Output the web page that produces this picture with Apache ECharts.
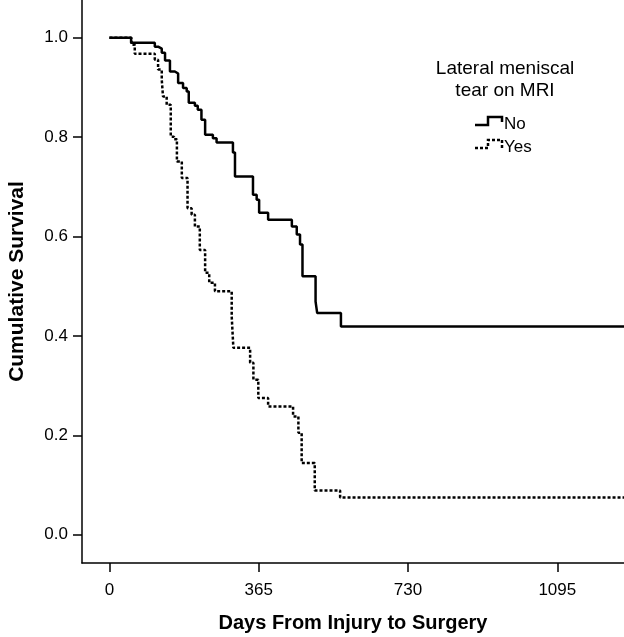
<!DOCTYPE html>
<html>
<head>
<meta charset="utf-8">
<style>
  html, body { margin: 0; padding: 0; background: #fff; }
  #chart { width: 624px; height: 637px; }
</style>
<script src="https://cdn.jsdelivr.net/npm/echarts@6/dist/echarts.min.js"></script>
</head>
<body>
<div id="chart"></div>
<script>
// Kaplan-Meier: days until surgery, split by lateral meniscal tear on MRI
var noDays = [0, 53, 111, 119, 128, 136, 148, 160, 168, 180, 189, 194, 209, 216, 225, 234, 253, 262, 302, 307,
  351, 360, 366, 388, 446, 458, 466, 472, 504, 508, 566, 1300];
var noSurv = [1.0, 0.990, 0.982, 0.978, 0.970, 0.954, 0.932, 0.928, 0.909, 0.899, 0.892, 0.869, 0.863, 0.855, 0.835, 0.805,
  0.798, 0.789, 0.769, 0.721, 0.684, 0.674, 0.648, 0.634, 0.620, 0.604, 0.584, 0.520, 0.469, 0.446, 0.419, 0.419];

var yesDays = [0, 54, 62, 111, 119, 128, 131, 140, 150, 158, 165, 177, 191, 201, 209, 221, 234, 244, 258, 299, 303,
  344, 352, 364, 388, 449, 462, 470, 502, 564, 1300];
var yesSurv = [1.0, 0.986, 0.968, 0.956, 0.936, 0.915, 0.882, 0.865, 0.801, 0.796, 0.751, 0.718, 0.657, 0.644, 0.620,
  0.573, 0.527, 0.507, 0.490, 0.439, 0.376, 0.346, 0.312, 0.275, 0.258, 0.238, 0.205, 0.144, 0.089, 0.075, 0.075];

var xTicks = [0, 365, 730, 1095];
var yTicks = [0, 0.2, 0.4, 0.6, 0.8, 1.0];

var legendTitle = 'Lateral meniscal\ntear on MRI';
var groups = ['No', 'Yes'];

function pairs(xs, ys) {
  return xs.map(function (x, i) { return [x, ys[i]]; })
}

var font = '"Liberation Sans", Arial, sans-serif';

var chart = echarts.init(document.getElementById('chart'))

chart.setOption({
  backgroundColor: '#fff',
  animation: false,
  grid: { left: 82, right: 0, top: 0, bottom: 74, outerBoundsMode: 'none', containLabel: false },
  xAxis: {
    type: 'value',
    min: -67,
    max: 1258,
    name: 'Days From Injury to Surgery',
    nameLocation: 'middle',
    nameGap: 50,
    nameTextStyle: { fontFamily: font, fontWeight: 'bold', fontSize: 20, color: '#000' },
    axisLine: { onZero: false, lineStyle: { color: '#000', width: 1.5 } },
    axisTick: { customValues: xTicks, length: 9, lineStyle: { color: '#000', width: 1.5 } },
    axisLabel: {
      customValues: xTicks, margin: 19,
      fontFamily: font, fontSize: 17, color: '#000',
      formatter: function (v) { return String(v) }
    },
    splitLine: { show: false }
  },
  yAxis: {
    type: 'value',
    min: -0.057,
    max: 1.076,
    name: 'Cumulative Survival',
    nameLocation: 'middle',
    nameGap: 54,
    nameTextStyle: { fontFamily: font, fontWeight: 'bold', fontSize: 21, color: '#000' },
    axisLine: { show: true, onZero: false, lineStyle: { color: '#000', width: 1.5 } },
    axisTick: { show: true, customValues: yTicks, length: 9, lineStyle: { color: '#000', width: 1.5 } },
    axisLabel: {
      customValues: yTicks, margin: 14,
      fontFamily: font, fontSize: 17, color: '#000',
      formatter: function (v) { return v.toFixed(1) }
    },
    splitLine: { show: false }
  },
  series: [
    {
      name: groups[0],
      type: 'line',
      step: 'end',
      symbol: 'none',
      lineStyle: { color: '#000', width: 2.5 },
      data: pairs(noDays, noSurv)
    },
    {
      name: groups[1],
      type: 'line',
      step: 'end',
      symbol: 'none',
      lineStyle: { color: '#000', width: 2.5, type: [3, 2] },
      data: pairs(yesDays, yesSurv)
    }
  ],
  graphic: [
    {
      type: 'text', x: 505, y: 58,
      style: {
        text: legendTitle, fontFamily: font, fontSize: 19, fill: '#000',
        align: 'center', verticalAlign: 'top', lineHeight: 22
      }
    },
    {
      type: 'polyline',
      shape: { points: [[475, 125], [488, 125], [488, 117], [502, 117], [502, 122]] },
      style: { stroke: '#000', lineWidth: 2.5, fill: null }
    },
    {
      type: 'text', x: 504, y: 124,
      style: { text: groups[0], fontFamily: font, fontSize: 17, fill: '#000', verticalAlign: 'middle' }
    },
    {
      type: 'polyline',
      shape: { points: [[475, 148], [488, 148], [488, 140], [502, 140], [502, 148]] },
      style: { stroke: '#000', lineWidth: 2.5, fill: null, lineDash: [3, 2] }
    },
    {
      type: 'text', x: 504, y: 147,
      style: { text: groups[1], fontFamily: font, fontSize: 17, fill: '#000', verticalAlign: 'middle' }
    }
  ]
})
</script>
</body>
</html>
